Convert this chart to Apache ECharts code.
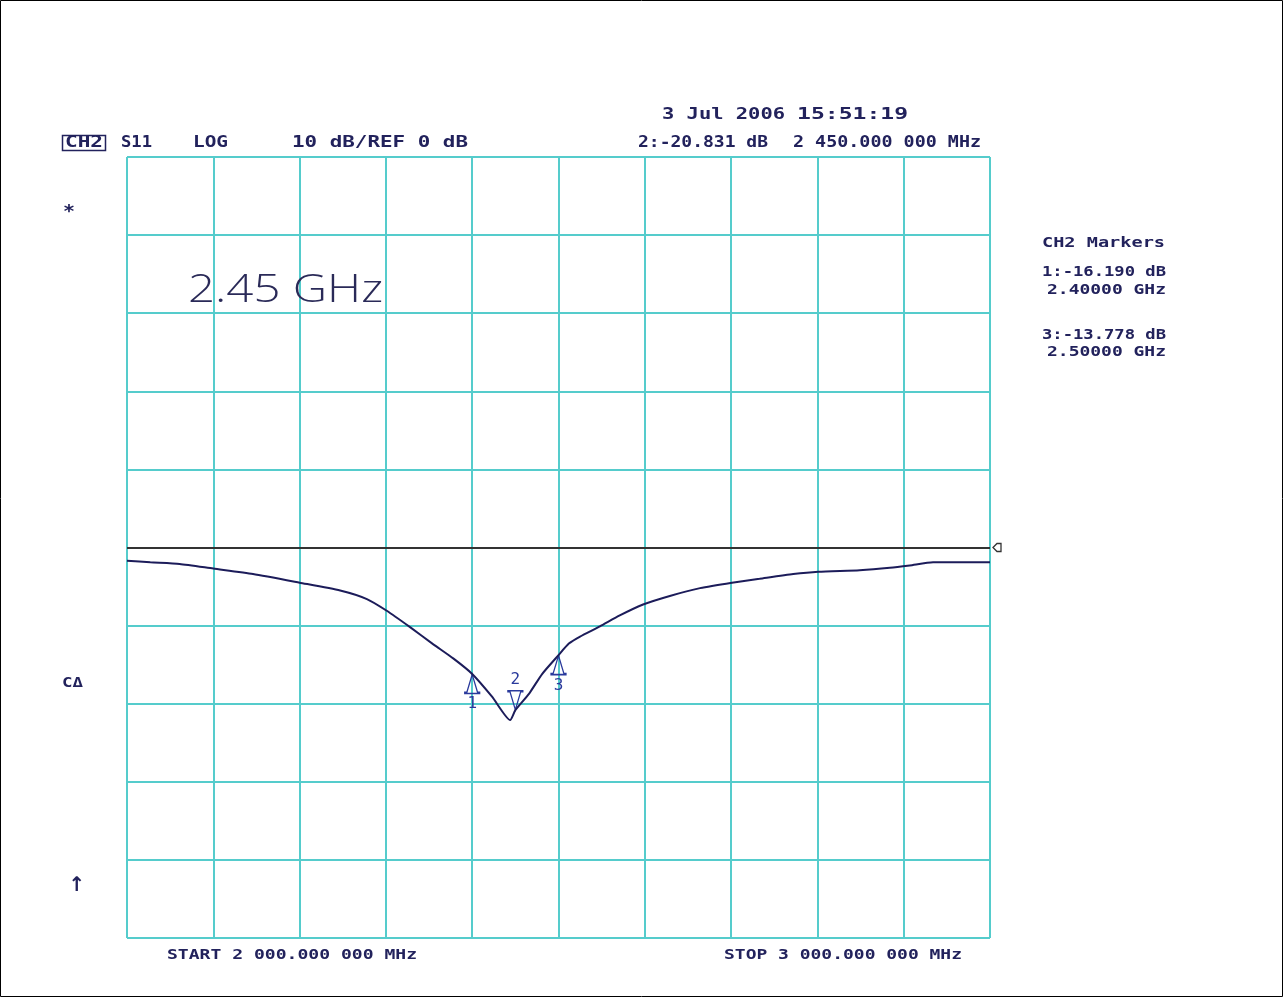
<!DOCTYPE html>
<html>
<head>
<meta charset="utf-8">
<script src="https://cdn.jsdelivr.net/npm/echarts@6/dist/echarts.min.js"></script>
<style>
html,body{margin:0;padding:0;background:#fff;}
#chart{width:1283px;height:997px;}
</style>
</head>
<body>
<div id="chart"></div>
<script>
// ---- data ----
const freqGHz = [2.000, 2.027, 2.061, 2.100, 2.146, 2.200, 2.247, 2.278, 2.301, 2.328, 2.355, 2.378, 2.400, 2.423, 2.444, 2.450, 2.466, 2.481, 2.500, 2.512, 2.525, 2.548, 2.571, 2.598, 2.629, 2.664, 2.701, 2.733, 2.772, 2.801, 2.849, 2.884, 2.907, 2.934, 3.000];
const s11dB   = [-1.7, -1.9, -2.1, -2.7, -3.4, -4.5, -5.5, -6.6, -8.1, -10.2, -12.4, -14.2, -16.19, -19.1, -22.1, -20.83, -18.7, -16.2, -13.78, -12.3, -11.4, -10.1, -8.7, -7.3, -6.2, -5.2, -4.5, -4.0, -3.4, -3.1, -2.9, -2.6, -2.3, -1.9, -1.9];
const markerNames = ['1', '2', '3'];
const markerFreq  = [2.40, 2.45, 2.50];
const markerDB    = [-16.190, -20.831, -13.778];
const refLevel = 0;
const xRange = [2, 3, 0.1];
const yRange = [-50, 50, 10];

const headerTexts = {
  ch: 'CH2', param: 'S11', fmt: 'LOG', scale: '10 dB/REF 0 dB',
  date: '3 Jul 2006', time: '15:51:19',
  activeMk: '2:-20.831 dB', activeFreq: '2 450.000 000 MHz',
  big: '2.45 GHz',
  mkTitle: 'CH2 Markers',
  mk1a: '1:-16.190 dB', mk1b: '2.40000 GHz',
  mk3a: '3:-13.778 dB', mk3b: '2.50000 GHz',
  start: 'START 2 000.000 000 MHz', stop: 'STOP 3 000.000 000 MHz'
};

// ---- styles ----
const TXT = '#22225c';
const GRIDC = '#55cccc';
const TRACE = '#1c1c5a';
const MK = '#2a3a9c';
const MONO = '"DejaVu Sans Mono", monospace';

const mctx = document.createElement('canvas').getContext('2d');
function fitText(str, left, right, yc, size, family, color, weight) {
  weight = weight || 'bold';
  mctx.font = weight + ' ' + size + 'px ' + family;
  const w = mctx.measureText(str).width;
  return {
    type: 'text', x: left, y: yc, scaleX: (right - left) / w, z: 10,
    style: { text: str, fontSize: size, fontFamily: family, fontWeight: weight, fill: color, align: 'left', verticalAlign: 'middle' }
  };
}

const T = headerTexts;
const graphics = [
  { type: 'rect', shape: { x: 0.5, y: 0.5, width: 1282, height: 996 }, style: { fill: 'none', stroke: '#000', lineWidth: 1 }, z: 10 },
  { type: 'rect', shape: { x: 62.5, y: 135.5, width: 43, height: 15 }, style: { fill: 'none', stroke: TXT, lineWidth: 1.5 }, z: 10 },
  fitText(T.ch, 65, 103, 143, 15, MONO, TXT),
  fitText(T.param, 121, 152, 143, 15, MONO, TXT),
  fitText(T.fmt, 193, 228, 143, 15, MONO, TXT),
  fitText(T.scale, 292, 468, 143, 15, MONO, TXT),
  fitText(T.date, 662, 785, 115, 15, MONO, TXT),
  fitText(T.time, 797, 908, 115, 15, MONO, TXT),
  fitText(T.activeMk, 638, 768, 143, 15, MONO, TXT),
  fitText(T.activeFreq, 793, 981, 143, 15, MONO, TXT),
  fitText(T.big, 188, 383, 291, 38, '"Open Sans", "Liberation Sans", sans-serif', '#2a2a58', 300),
  fitText(T.mkTitle, 1042, 1165, 243, 14, MONO, TXT),
  fitText(T.mk1a, 1042, 1166, 272, 14, MONO, TXT),
  fitText(T.mk1b, 1047, 1166, 290, 14, MONO, TXT),
  fitText(T.mk3a, 1042, 1166, 335, 14, MONO, TXT),
  fitText(T.mk3b, 1047, 1166, 352, 14, MONO, TXT),
  fitText(T.start, 167, 417, 955, 14, MONO, TXT),
  fitText(T.stop, 724, 962, 955, 14, MONO, TXT),
  fitText('*', 63, 75, 212, 18, MONO, TXT),
  fitText('C\u0394', 62, 83, 683, 14, MONO, TXT),
  { type: 'text', x: 77, y: 886, z: 10, style: { text: '\u2191', fontSize: 20, fontWeight: 'bold', fontFamily: '"DejaVu Sans", sans-serif', fill: TXT, align: 'center', verticalAlign: 'middle' } }
];

const upTri = 'path://M7,0 L12,17 L14,17 L14,18 L0,18 L0,17 L2,17 Z';
const downTri = 'path://M0,0 L14,0 L14,1 L12,1 L7,18 L2,1 L0,1 Z';

const mkData = markerNames.map((n, i) => {
  const down = (n === '2');
  return {
    name: n,
    coord: [markerFreq[i], markerDB[i]],
    symbol: down ? downTri : upTri,
    symbolSize: [15, 19],
    symbolOffset: [0, down ? -10 : 10],
    label: {
      show: true, formatter: n, position: down ? 'top' : 'bottom', distance: 2,
      color: MK, fontSize: 16, fontFamily: MONO
    }
  };
});

const chart = echarts.init(document.getElementById('chart'), null, { renderer: 'canvas' });
chart.setOption({
  backgroundColor: '#ffffff',
  animation: false,
  grid: { left: 127, top: 157, width: 863, height: 781, containLabel: false },
  xAxis: {
    type: 'value', min: xRange[0], max: xRange[1], interval: xRange[2],
    axisLabel: { show: false }, axisTick: { show: false },
    axisLine: { show: false },
    splitLine: { show: true, lineStyle: { color: GRIDC, width: 2 } }
  },
  yAxis: {
    type: 'value', min: yRange[0], max: yRange[1], interval: yRange[2],
    axisLabel: { show: false }, axisTick: { show: false },
    axisLine: { show: false },
    splitLine: { show: true, lineStyle: { color: GRIDC, width: 2 } }
  },
  graphic: graphics,
  series: [
    {
      type: 'line',
      data: freqGHz.map((f, i) => [f, s11dB[i]]),
      showSymbol: false, smooth: 0.2,
      lineStyle: { color: TRACE, width: 2 },
      z: 5,
      markLine: {
        silent: true, symbol: ['none', 'none'],
        lineStyle: { color: '#333333', width: 2, type: 'solid' },
        label: { show: false },
        data: [{ yAxis: refLevel }]
      },
      markPoint: {
        silent: true,
        itemStyle: { color: 'rgba(0,0,0,0)', borderColor: MK, borderWidth: 1.4 },
        data: mkData.concat([{
          coord: [xRange[1], refLevel],
          symbol: 'path://M0,4 L4,0 L8,0 L8,8 L4,8 Z',
          symbolSize: [8, 8], symbolOffset: [7, 0],
          itemStyle: { color: 'rgba(0,0,0,0)', borderColor: '#333', borderWidth: 1.3 },
          label: { show: false }
        }])
      }
    }
  ]
});
</script>
</body>
</html>
